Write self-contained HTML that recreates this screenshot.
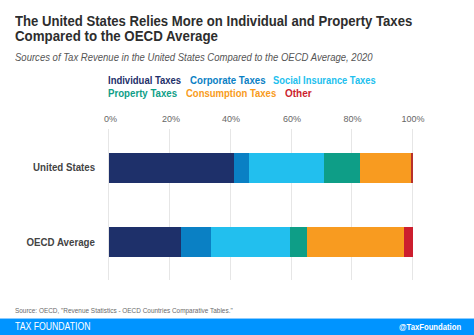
<!DOCTYPE html>
<html><head><meta charset="utf-8">
<style>
*{margin:0;padding:0;box-sizing:border-box}
html,body{width:474px;height:335px;overflow:hidden;background:#fff}
body{position:relative;font-family:"Liberation Sans",sans-serif}
.t{position:absolute;white-space:nowrap;line-height:1}
#title1,#title2{font-weight:bold;font-size:14px;color:#2d2d2d}
#sub{font-style:italic;font-size:10.5px;color:#555}
.lg{font-weight:bold;font-size:10.5px}
.ax{font-size:9px;color:#666}
.cat{font-weight:bold;font-size:10.5px;color:#444;text-align:right;transform:scaleX(0.925);transform-origin:100% 0}
.grid{position:absolute;width:1px;background:#e6e6e6;top:129px;height:151px}
.bar{position:absolute;height:30px}
.seg{position:absolute;top:0;height:30px}
#src{font-size:7.5px;color:#6a6a6a}
#foot{position:absolute;left:0;top:319px;width:474px;height:16px;background:#0094ff;box-shadow:0 -1px 0 #8ccbff}
#tf{font-size:10px;color:#fff;transform:scaleX(0.87);transform-origin:0 0}
#tw{font-size:9px;font-weight:bold;color:#fff;transform:scaleX(0.856);transform-origin:0 0}
</style></head><body>
<div class="t" id="title1" style="transform:scaleX(0.9375);transform-origin:0 0;left:15px;top:13.5px">The United States Relies More on Individual and Property Taxes</div>
<div class="t" id="title2" style="transform:scaleX(0.95);transform-origin:0 0;left:15px;top:28.5px">Compared to the OECD Average</div>
<div class="t" id="sub" style="transform:scaleX(0.907);transform-origin:0 0;left:15px;top:51.5px">Sources of Tax Revenue in the United States Compared to the OECD Average, 2020</div>

<div class="t lg" id="lg1" style="transform:scaleX(0.904);transform-origin:0 0;left:108px;top:74.5px;color:#1e306a">Individual Taxes</div>
<div class="t lg" id="lg2" style="transform:scaleX(0.92);transform-origin:0 0;left:190px;top:74.5px;color:#0a80c4">Corporate Taxes</div>
<div class="t lg" id="lg3" style="transform:scaleX(0.89);transform-origin:0 0;left:273px;top:74.5px;color:#22bfee">Social Insurance Taxes</div>
<div class="t lg" id="lg4" style="transform:scaleX(0.92);transform-origin:0 0;left:108px;top:88px;color:#0e9e87">Property Taxes</div>
<div class="t lg" id="lg5" style="transform:scaleX(0.906);transform-origin:0 0;left:186px;top:88px;color:#f89b20">Consumption Taxes</div>
<div class="t lg" id="lg6" style="transform:scaleX(0.95);transform-origin:0 0;left:285px;top:88px;color:#cc1e2e">Other</div>

<div class="grid" style="left:108px"></div>
<div class="grid" style="left:169px"></div>
<div class="grid" style="left:230px"></div>
<div class="grid" style="left:291px"></div>
<div class="grid" style="left:351px"></div>
<div class="grid" style="left:412px"></div>

<div class="t ax" id="ax0" style="left:104px;top:115px">0%</div>
<div class="t ax" id="ax20" style="left:162px;top:115px">20%</div>
<div class="t ax" id="ax40" style="left:222px;top:115px">40%</div>
<div class="t ax" id="ax60" style="left:283px;top:115px">60%</div>
<div class="t ax" id="ax80" style="left:343.5px;top:115px">80%</div>
<div class="t ax" id="ax100" style="left:401.5px;top:115px">100%</div>

<div class="t cat" id="cat1" style="right:379px;top:161.5px">United States</div>
<div class="t cat" id="cat2" style="right:379px;top:237px">OECD Average</div>

<div class="bar" style="left:109px;top:153px;width:304px">
<div class="seg" style="left:0;width:124.5px;background:#1e306a"></div>
<div class="seg" style="left:124.5px;width:15px;background:#0a80c4"></div>
<div class="seg" style="left:139.5px;width:75.5px;background:#22bfee"></div>
<div class="seg" style="left:215px;width:36px;background:#0e9e87"></div>
<div class="seg" style="left:251px;width:50.5px;background:#f89b20"></div>
<div class="seg" style="left:301.5px;width:2.5px;background:#b8302a"></div>
</div>
<div class="bar" style="left:109px;top:227px;width:304px">
<div class="seg" style="left:0;width:72px;background:#1e306a"></div>
<div class="seg" style="left:72px;width:29.5px;background:#0a80c4"></div>
<div class="seg" style="left:101.5px;width:79.5px;background:#22bfee"></div>
<div class="seg" style="left:181px;width:17px;background:#0e9e87"></div>
<div class="seg" style="left:198px;width:97px;background:#f89b20"></div>
<div class="seg" style="left:295px;width:9px;background:#cc1e2e"></div>
</div>

<div class="t" id="src" style="transform:scaleX(0.857);transform-origin:0 0;left:15px;top:306.6px">Source: OECD, "Revenue Statistics - OECD Countries Comparative Tables."</div>
<div id="foot"></div>
<div class="t" id="tf" style="left:15px;top:322px">TAX FOUNDATION</div>
<div class="t" id="tw" style="left:399px;top:322.8px">@TaxFoundation</div>
</body></html>
